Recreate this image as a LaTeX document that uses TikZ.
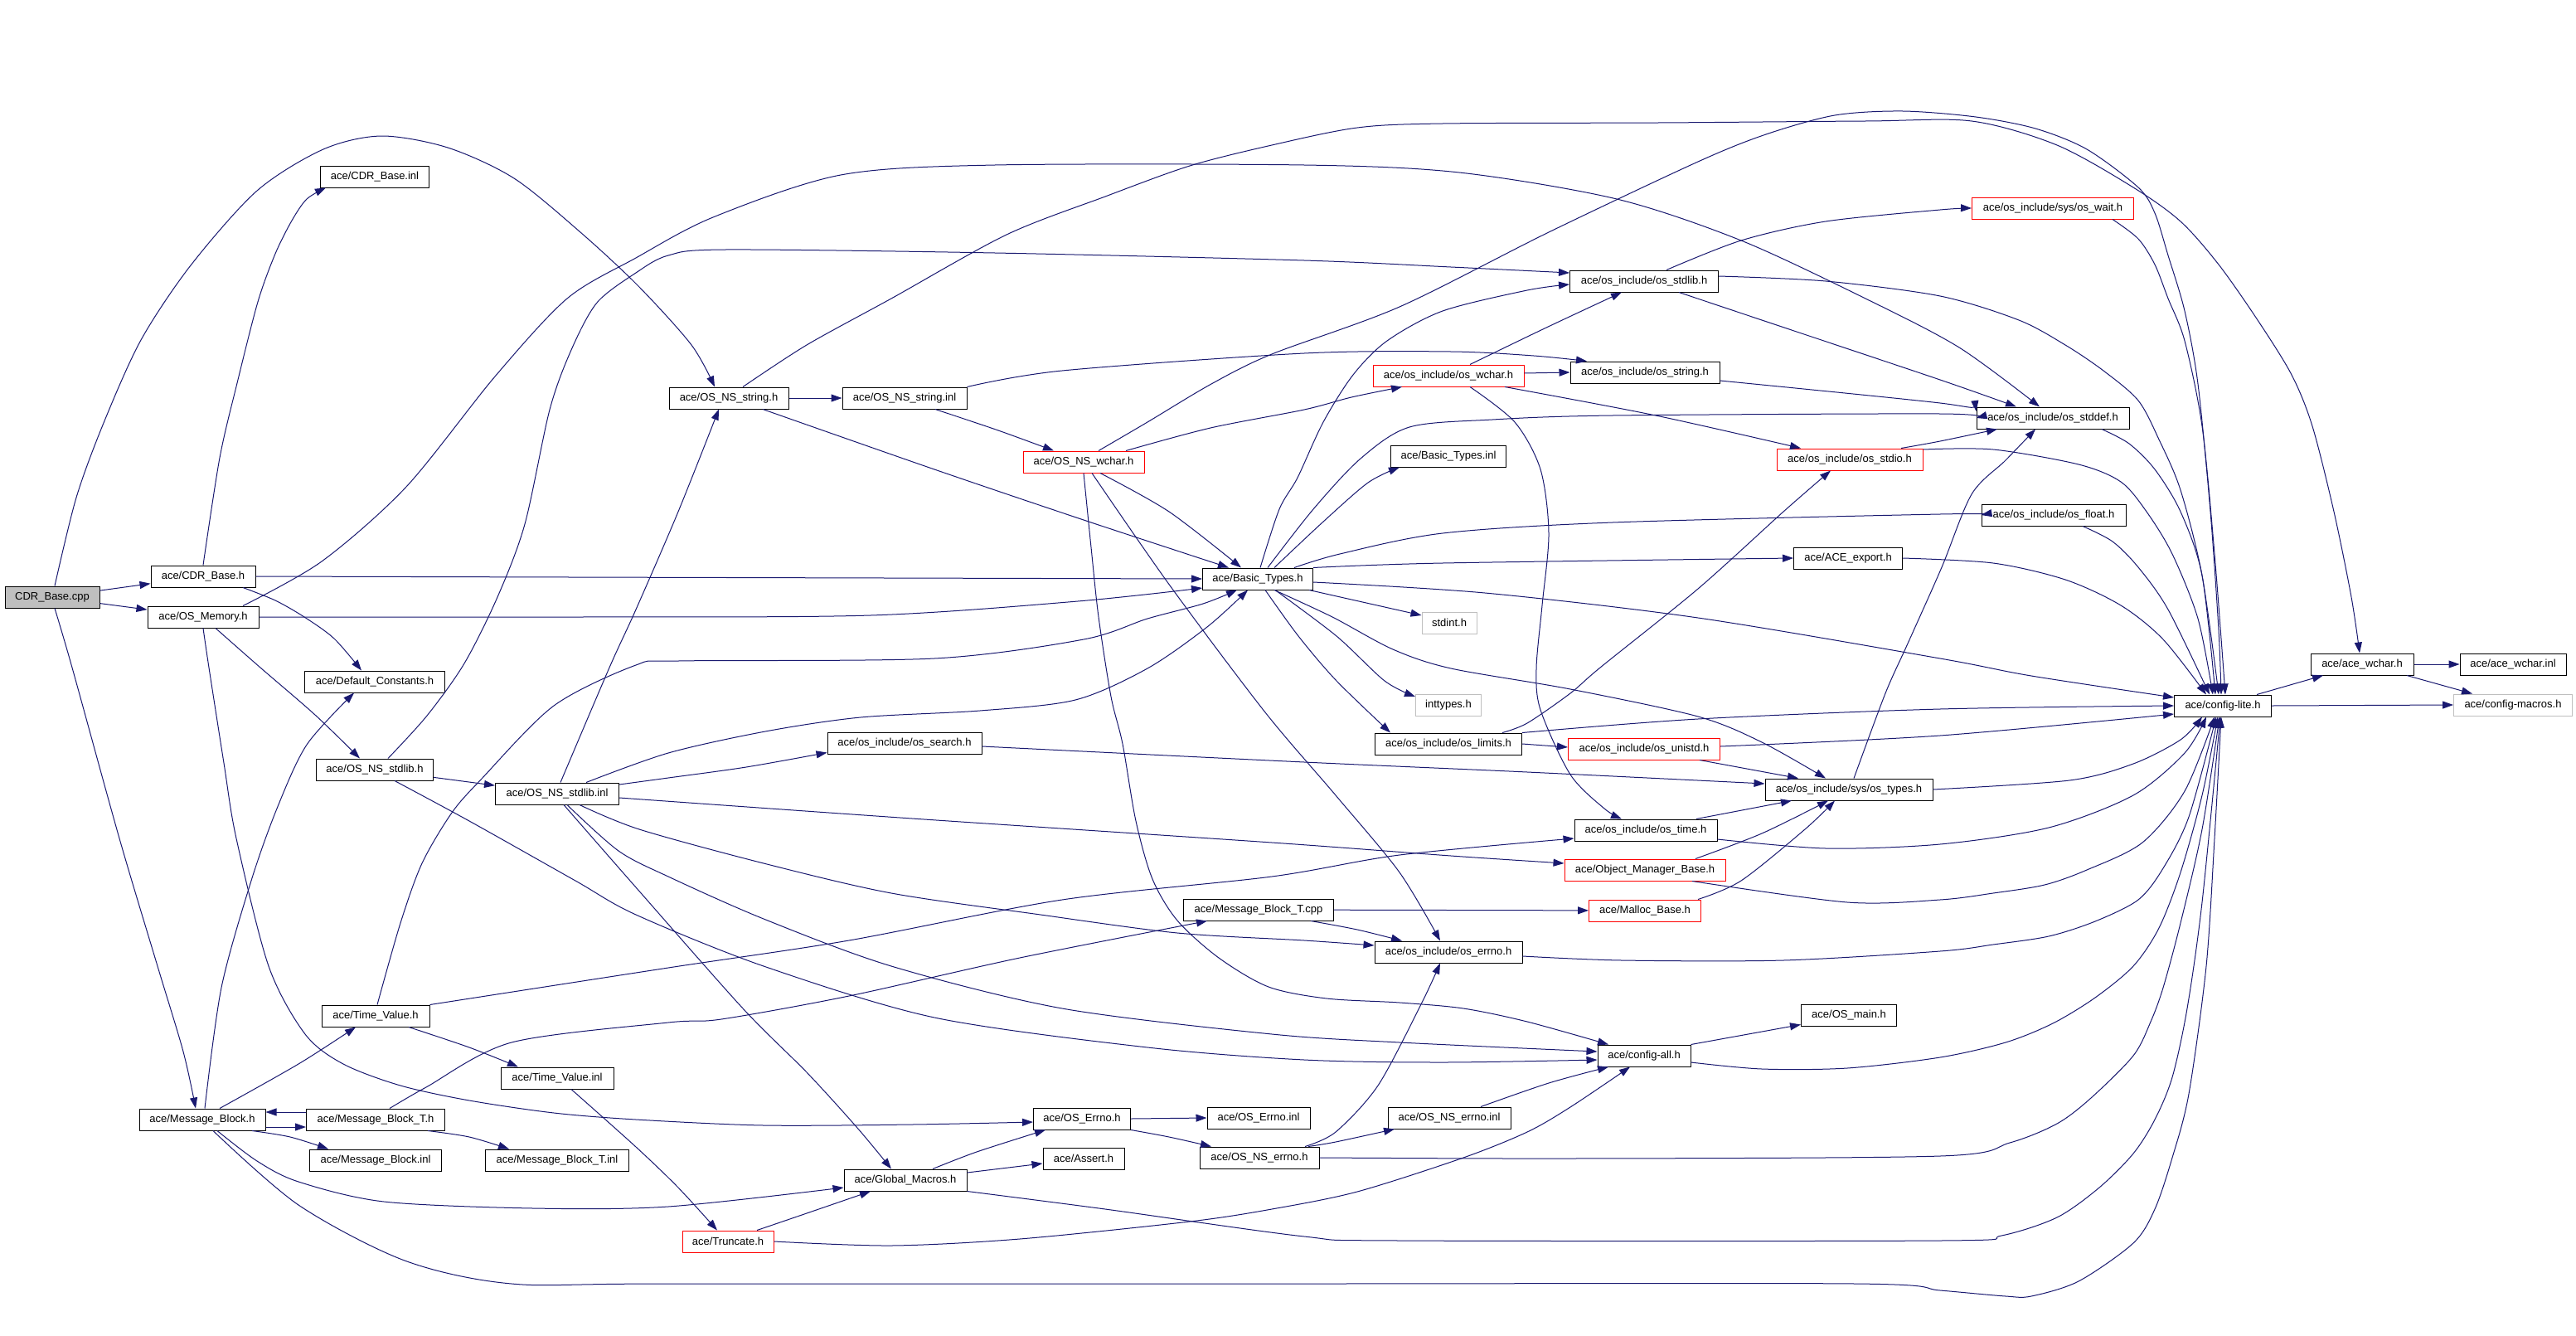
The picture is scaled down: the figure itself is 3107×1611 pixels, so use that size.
\documentclass[tikz,border=0pt]{standalone}
\usepackage{fontspec}
\setmainfont{Liberation Sans}
\usetikzlibrary{arrows.meta}
\definecolor{edgeblue}{HTML}{191970}
\definecolor{rootgray}{HTML}{BFBFBF}
\definecolor{lgray}{HTML}{BFBFBF}
\tikzset{
  nb/.style={draw=black, line width=1pt, fill=white, minimum height=26pt, inner sep=0pt, font=\fontsize{13pt}{15pt}\selectfont},
  rednb/.style={nb, draw=red},
  graynb/.style={nb, draw=lgray},
  rootnb/.style={nb, fill=rootgray},
  edge/.style={draw=edgeblue, line width=1pt, -{Triangle[length=13pt,width=9pt]}},
}
\newcommand\edgeplot[1]{\draw[edge] plot[smooth, tension=0.5] coordinates {#1};}
\begin{document}
\begin{tikzpicture}[x=1pt,y=-1pt]
\useasboundingbox (0,0) rectangle (3107,1611);
% nodes
\node[rootnb, minimum width=114pt] (ncpp) at (63,720) {CDR\_Base.cpp};
\node[nb, minimum width=126pt] (ncdrh) at (245,695) {ace/CDR\_Base.h};
\node[nb, minimum width=134pt] (nmem) at (245,744) {ace/OS\_Memory.h};
\node[nb, minimum width=131pt] (ncdrinl) at (452,213) {ace/CDR\_Base.inl};
\node[nb, minimum width=169pt] (ndefc) at (452,822) {ace/Default\_Constants.h};
\node[nb, minimum width=141pt] (nnsstdlib) at (452,928) {ace/OS\_NS\_stdlib.h};
\node[nb, minimum width=149pt] (nnsstdlibinl) at (672,957) {ace/OS\_NS\_stdlib.inl};
\node[nb, minimum width=130pt] (ntv) at (453,1225) {ace/Time\_Value.h};
\node[nb, minimum width=136pt] (ntvinl) at (672,1300) {ace/Time\_Value.inl};
\node[nb, minimum width=152pt] (nmb) at (244,1350) {ace/Message\_Block.h};
\node[nb, minimum width=167pt] (nmbt) at (453,1350) {ace/Message\_Block\_T.h};
\node[nb, minimum width=159pt] (nmbinl) at (453,1399) {ace/Message\_Block.inl};
\node[nb, minimum width=173pt] (nmbtinl) at (672,1399) {ace/Message\_Block\_T.inl};
\node[nb, minimum width=144pt] (nnsstring) at (879,480) {ace/OS\_NS\_string.h};
\node[nb, minimum width=150pt] (nnsstringinl) at (1091,480) {ace/OS\_NS\_string.inl};
\node[rednb, minimum width=146pt] (nnswchar) at (1307,557) {ace/OS\_NS\_wchar.h};
\node[nb, minimum width=186pt] (nsearch) at (1091,896) {ace/os\_include/os\_search.h};
\node[nb, minimum width=148pt] (ngm) at (1092,1423) {ace/Global\_Macros.h};
\node[rednb, minimum width=110pt] (ntrunc) at (878,1497) {ace/Truncate.h};
\node[nb, minimum width=133pt] (nbt) at (1517,698) {ace/Basic\_Types.h};
\node[nb, minimum width=181pt] (nmbtcpp) at (1518,1097) {ace/Message\_Block\_T.cpp};
\node[nb, minimum width=117pt] (nerrno) at (1305,1349) {ace/OS\_Errno.h};
\node[nb, minimum width=98pt] (nassert) at (1307,1397) {ace/Assert.h};
\node[nb, minimum width=124pt] (nerrnoinl) at (1518,1348) {ace/OS\_Errno.inl};
\node[nb, minimum width=144pt] (nnserrno) at (1519,1396) {ace/OS\_NS\_errno.h};
\node[rednb, minimum width=182pt] (noswchar) at (1747,453) {ace/os\_include/os\_wchar.h};
\node[nb, minimum width=139pt] (nbtinl) at (1747,550) {ace/Basic\_Types.inl};
\node[graynb, minimum width=66pt] (nstdint) at (1748,751) {stdint.h};
\node[graynb, minimum width=79pt] (ninttypes) at (1747,850) {inttypes.h};
\node[nb, minimum width=177pt] (nlimits) at (1747,897) {ace/os\_include/os\_limits.h};
\node[nb, minimum width=178pt] (noserrno) at (1747,1148) {ace/os\_include/os\_errno.h};
\node[nb, minimum width=148pt] (nnserrnoinl) at (1748,1348) {ace/OS\_NS\_errno.inl};
\node[nb, minimum width=179pt] (nstdlib) at (1983,339) {ace/os\_include/os\_stdlib.h};
\node[nb, minimum width=180pt] (nstring) at (1984,449) {ace/os\_include/os\_string.h};
\node[rednb, minimum width=183pt] (nunistd) at (1983,903) {ace/os\_include/os\_unistd.h};
\node[nb, minimum width=172pt] (ntime) at (1985,1001) {ace/os\_include/os\_time.h};
\node[rednb, minimum width=194pt] (nomb) at (1984,1049) {ace/Object\_Manager\_Base.h};
\node[rednb, minimum width=135pt] (nmalloc) at (1984,1098) {ace/Malloc\_Base.h};
\node[nb, minimum width=112pt] (ncfgall) at (1983,1273) {ace/config-all.h};
\node[rednb, minimum width=176pt] (nstdio) at (2231,554) {ace/os\_include/os\_stdio.h};
\node[nb, minimum width=131pt] (nexport) at (2229,673) {ace/ACE\_export.h};
\node[nb, minimum width=202pt] (ntypes) at (2230,952) {ace/os\_include/sys/os\_types.h};
\node[nb, minimum width=115pt] (nmain) at (2230,1224) {ace/OS\_main.h};
\node[rednb, minimum width=195pt] (nwait) at (2476,251) {ace/os\_include/sys/os\_wait.h};
\node[nb, minimum width=184pt] (nstddef) at (2476,504) {ace/os\_include/os\_stddef.h};
\node[nb, minimum width=174pt] (nfloat) at (2477,621) {ace/os\_include/os\_float.h};
\node[nb, minimum width=117pt] (ncfglite) at (2681,851) {ace/config-lite.h};
\node[nb, minimum width=124pt] (nacewchar) at (2849,801) {ace/ace\_wchar.h};
\node[nb, minimum width=128pt] (nacewcharinl) at (3031,801) {ace/ace\_wchar.inl};
\node[graynb, minimum width=143pt] (nmacros) at (3031,850) {ace/config-macros.h};
% edges
\draw[edge] (ncpp) -- (ncdrh);
\draw[edge] (ncpp) -- (nmem);
\edgeplot{([xshift=3pt]ncpp.north) (92,600) (125,510) (170,410) (230,320) (310,230) (390,180) (460,164) (540,178) (620,215) (700,280) (770,345) (834,416) ([xshift=-17pt]nnsstring.north)}
\edgeplot{([xshift=3pt]ncpp.south) (87,805) (144,1011) (190,1165) (221,1268) ([xshift=-8pt]nmb.north)}
\edgeplot{(ncdrh.north) (265,552) (286,462) (311,364) (332,306) (352,266) (370,240) ([xshift=-59pt]ncdrinl.south)}
\draw[edge] (ncdrh.east) -- (nbt.west);
\edgeplot{([xshift=48pt]ncdrh.south) (332,724) (367,744) (403,770) ([xshift=-16pt]ndefc.north)}
\edgeplot{(nmem.east) (700,744) (1050,742) (1300,725) ([yshift=-11pt]nbt.west)}
\edgeplot{([xshift=15pt]nmem.south) (314,805) (380,862) ([xshift=-18pt]nnsstdlib.north)}
\edgeplot{(nmem.south) (252,805) (270,920) (285,1011) (324,1165) (368,1247) (414,1283) (483,1309) (566,1327) (668,1342) (767,1350) (921,1357) (1100,1356) ([yshift=-4pt]nerrno.west)}
\edgeplot{([xshift=48pt]nmem.north) (388,677) (490,587) (597,454) (684,360) (767,311) (860,262) (1014,211) (1200,199) (1573,199) (1760,208) (1950,240) (2100,290) (2250,360) (2363,419) ([xshift=-16pt]nstddef.north)}
\draw[edge] (nnsstring) -- (nnsstringinl);
\edgeplot{([xshift=41pt]nnsstring.south) (1127,566) (1307,627) ([xshift=-35pt]nbt.north)}
\edgeplot{([xshift=17pt]nnsstring.north) (973,416) (1075,360) (1214,283) (1333,237) (1435,200) (1534,175) (1637,154) (1740,149) (2000,148) (2250,146) (2378,146) (2481,175) (2573,226) (2630,267) (2676,319) (2723,386) (2764,452) (2789,514) (2815,617) (2836,720) ([xshift=-3pt]nacewchar.north)}
\edgeplot{([xshift=18pt]nnswchar.north) (1384,509) (1461,463) (1534,427) (1688,370) (1868,280) (2048,195) (2130,162) (2213,139) (2295,134) (2383,141) (2455,155) (2517,180) (2579,226) (2599,257) (2615,308) (2635,375) (2651,463) (2666,617) (2676,760) ([xshift=-2pt]ncfglite.north)}
\edgeplot{([xshift=37pt]nnsstringinl.south) (1204,519) ([xshift=-36pt]nnswchar.north)}
\edgeplot{(nnsstringinl.north east) (1281,447) (1573,426) (1750,424) (1850,429) ([xshift=-70pt]nstring.north)}
\edgeplot{([xshift=20pt]nnswchar.south) (1410,617) ([xshift=-20pt]nbt.north)}
\edgeplot{([xshift=51pt]nnswchar.north) (1460,516) (1573,494) (1630,479) ([xshift=-56pt]noswchar.south)}
\edgeplot{([xshift=10pt]nnswchar.south) (1411,706) (1526,859) (1611,959) (1688,1052) ([xshift=-10pt]noserrno.north)}
\edgeplot{(nnswchar.south) (1316,660) (1325,744) (1340,840) (1354,897) (1370,990) (1390,1060) (1420,1110) (1470,1155) (1530,1190) (1600,1204) (1688,1209) (1765,1216) (1842,1232) ([xshift=-43pt]ncfgall.north)}
\draw[edge] (nnsstdlib) -- (nnsstdlibinl);
\edgeplot{([xshift=16pt]nnsstdlib.north) (515,863) (560,800) (600,720) (633,632) (663,494) (689,422) (720,365) (767,329) (806,308) (875,301) (1200,305) (1573,314) (1750,322) ([yshift=10pt]nstdlib.west)}
\edgeplot{([xshift=24pt]nnsstdlib.south) (566,990) (694,1062) (767,1103) (921,1165) (1127,1227) (1384,1263) (1573,1278) (1740,1281) ([yshift=-5pt]ncfgall.west)}
\edgeplot{([xshift=4pt]nnsstdlibinl.north) (735,805) (767,735) (818,617) ([xshift=-12pt]nnsstring.south)}
\edgeplot{([xshift=35pt]nnsstdlibinl.north) (806,908) (923,882) (1038,865) (1182,857) (1297,844) (1384,806) (1456,756) ([xshift=-12pt]nbt.south)}
\edgeplot{([yshift=11pt]nnsstdlibinl.east) (806,938) (900,925) ([yshift=2pt]nsearch.south west)}
\edgeplot{([yshift=-5pt]nnsstdlibinl.east) (1100,987) (1534,1016) (1750,1032) ([yshift=8pt]nomb.west)}
\edgeplot{([xshift=27pt]nnsstdlibinl.south) (771,1000) (921,1041) (1075,1077) (1255,1103) (1420,1125) (1573,1134) ([yshift=8pt]noserrno.west)}
\edgeplot{([xshift=12pt]nnsstdlibinl.south) (746,1026) (806,1057) (921,1108) (1075,1165) (1281,1216) (1534,1247) (1688,1257) ([yshift=5pt]ncfgall.west)}
\edgeplot{([xshift=8pt]nnsstdlibinl.south) (767,1070) (896,1216) (973,1293) (1034,1360) ([xshift=-17pt]ngm.north)}
\edgeplot{([xshift=40pt]ntv.south) (566,1263) ([xshift=-47pt]ntvinl.north)}
\edgeplot{([xshift=2pt]ntv.north) (483,1113) (509,1041) (545,980) (581,939) (668,851) (767,802) (818,797) (1127,794) (1307,771) (1384,746) (1451,728) ([xshift=-25pt]nbt.south)}
\edgeplot{(ntv.north east) (806,1167) (1024,1134) (1281,1085) (1534,1057) (1688,1031) ([yshift=-10pt]ntime.west)}
\edgeplot{([xshift=17pt]ntvinl.south) (767,1383) (818,1432) ([xshift=-13pt]ntrunc.north)}
\edgeplot{([xshift=21pt]nmb.north) (360,1283) ([xshift=-24pt]ntv.south)}
\draw[edge] ([yshift=-9pt]nmb.east) -- ([yshift=-9pt]nmbt.west);
\draw[edge] ([yshift=9pt]nmbt.west) -- ([yshift=9pt]nmb.east);
\edgeplot{([xshift=60pt]nmb.south) (350,1371) ([xshift=-57pt]nmbinl.north)}
\edgeplot{([xshift=63pt]nmbt.south) (566,1371) ([xshift=-58pt]nmbtinl.north)}
\edgeplot{([xshift=3pt]nmb.north) (267,1191) (303,1062) (334,975) (370,898) ([xshift=-25pt]ndefc.south)}
\edgeplot{([xshift=18pt]nmb.south) (310,1400) (360,1425) (463,1449) (643,1457) (806,1455) ([yshift=-9pt]ngm.west)}
\edgeplot{([xshift=13pt]nmb.south) (360,1453) (488,1520) (617,1548) (806,1548) (1573,1548) (2238,1548) (2340,1556) (2419,1563) (2450,1563) (2507,1545) (2573,1499) (2599,1458) (2620,1396) (2640,1319) (2661,1165) (2671,1011) ([xshift=-2pt]ncfglite.south)}
\edgeplot{(nnserrno.east) (1894,1397) (2340,1394) (2424,1378) (2481,1355) (2522,1324) (2573,1273) (2594,1232) (2609,1191) (2630,1113) (2656,1000) ([xshift=-4pt]ncfglite.south)}
\edgeplot{(ngm.south east) (1333,1458) (1573,1491) (1688,1496) (2340,1496) (2414,1490) (2481,1468) (2532,1432) (2573,1391) (2599,1350) (2620,1299) (2638,1216) (2656,1088) ([xshift=-3pt]ncfglite.south)}
\edgeplot{([yshift=-8pt]ncfgall.east) (2125,1289) (2228,1288) (2340,1275) (2419,1257) (2476,1234) (2527,1203) (2573,1165) (2604,1119) (2630,1052) (2656,959) ([xshift=-6pt]ncfglite.south)}
\edgeplot{([yshift=-5pt]noserrno.east) (1956,1158) (2151,1158) (2340,1147) (2404,1139) (2471,1129) (2527,1111) (2579,1085) (2609,1047) (2640,985) ([xshift=-8pt]ncfglite.south)}
\edgeplot{([xshift=57pt]nomb.south) (2228,1088) (2340,1085) (2404,1077) (2466,1067) (2517,1049) (2584,1016) (2635,954) ([xshift=-10pt]ncfglite.south)}
\edgeplot{([yshift=-11pt]ntime.east) (2202,1023) (2340,1018) (2471,998) (2573,959) (2635,908) ([xshift=-20pt]ncfglite.south)}
\edgeplot{(ntypes.east) (2496,941) (2573,921) (2630,892) ([xshift=-25pt]ncfglite.south)}
\edgeplot{([yshift=3pt]nunistd.east) (2340,887) ([yshift=-10pt]ncfglite.west)}
\edgeplot{(nlimits.north east) (2048,867) (2340,855) (ncfglite.west)}
\edgeplot{([yshift=-4pt]nbt.east) (1791,715) (2048,745) (2340,794) (2450,815) ([yshift=10pt]ncfglite.west)}
\edgeplot{([xshift=72pt]nwait.south) (2579,288) (2599,319) (2615,360) (2635,411) (2656,514) (2671,668) ([xshift=3pt]ncfglite.north)}
\edgeplot{([yshift=6pt]nstdlib.east) (2202,339) (2340,357) (2435,386) (2491,416) (2537,447) (2579,483) (2604,530) (2630,591) (2656,694) ([xshift=-5pt]ncfglite.north)}
\edgeplot{([xshift=59pt]nstddef.south) (2568,535) (2599,566) (2630,617) (2656,694) ([xshift=-9pt]ncfglite.north)}
\edgeplot{([yshift=12pt]nstdio.east) (2404,542) (2507,560) (2558,581) (2589,617) (2620,668) (2651,746) ([xshift=-12pt]ncfglite.north)}
\edgeplot{([xshift=35pt]nfloat.south) (2548,653) (2579,684) (2615,735) ([xshift=-16pt]ncfglite.north)}
\edgeplot{(nexport.east) (2404,679) (2491,699) (2558,730) (2609,771) ([xshift=-20pt]ncfglite.north)}
\edgeplot{([xshift=27pt]nstdlib.north) (2100,290) (2202,267) (2340,253) (nwait.west)}
\edgeplot{([xshift=42pt]nstdlib.south) (2125,386) (2340,458) ([xshift=-44pt]nstddef.north)}
\edgeplot{([yshift=-10pt]nstring.east) (2340,486) ([yshift=8pt]nstddef.west)}
\edgeplot{([xshift=12pt]nbt.north) (1584,614) (1641,553) (1700,515) (1800,506) (1945,501) (2340,499) (nstddef.west)}
\edgeplot{([xshift=62pt]nstdio.north) (2340,532) ([xshift=-67pt]nstddef.south)}
\edgeplot{([xshift=6pt]ntypes.north) (2274,836) (2301,776) (2342,684) (2378,596) (2419,555) ([xshift=-21pt]nstddef.south)}
\draw[edge] (nlimits.east) -- ([yshift=2pt]nunistd.west);
\edgeplot{([xshift=65pt]nlimits.north) (1842,872) (1894,836) (1930,805) (2048,710) (2151,617) ([xshift=-23pt]nstdio.south)}
\draw[edge] ([xshift=67pt]nunistd.south) -- ([xshift=-61pt]ntypes.north);
\draw[edge] ([xshift=61pt]ntime.north) -- ([xshift=-69pt]ntypes.south);
\edgeplot{([xshift=61pt]nomb.north) (2125,1005) ([xshift=-25pt]ntypes.south)}
\edgeplot{([xshift=64pt]nmalloc.north) (2100,1062) (2177,1000) ([xshift=-17pt]ntypes.south)}
\edgeplot{([yshift=-4pt]nsearch.east) (1573,919) (1842,931) ([yshift=7pt]ntypes.west)}
\draw[edge] (ncfgall.north east) -- ([yshift=2pt]nmain.south west);
\edgeplot{([xshift=59pt]nnserrno.north) (1611,1377) ([xshift=-66pt]nnserrnoinl.south)}
\edgeplot{([xshift=55pt]nnserrno.north) (1611,1365) (1662,1309) (1714,1211) ([xshift=-10pt]noserrno.south)}
\edgeplot{([xshift=38pt]nnserrnoinl.north) (1868,1306) ([xshift=-43pt]ncfgall.south)}
\edgeplot{(ntrunc.east) (1075,1502) (1230,1494) (1435,1473) (1534,1458) (1637,1437) (1765,1396) (1842,1365) (1894,1335) ([xshift=-17pt]ncfgall.south)}
\edgeplot{([xshift=35pt]ntrunc.north) (973,1463) ([xshift=-42pt]ngm.south)}
\edgeplot{([xshift=33pt]ngm.north) (1178,1389) ([xshift=-44pt]nerrno.south)}
\draw[edge] (ngm) -- (nassert);
\draw[edge] (nerrno.east) -- (nerrnoinl.west);
\edgeplot{(nerrno.south east) (1410,1371) ([xshift=-58pt]nnserrno.north)}
\draw[edge] (nmbtcpp) -- (nmalloc);
\edgeplot{([xshift=63pt]nmbtcpp.south) (1637,1121) ([xshift=-56pt]noserrno.north)}
\edgeplot{([xshift=17pt]nmbt.north) (514,1311) (617,1257) (806,1233) (870,1229) (1024,1201) (1230,1155) ([xshift=-62pt]nmbtcpp.south)}
\edgeplot{([xshift=26pt]noswchar.north) (1863,396) ([xshift=-27pt]nstdlib.south)}
\draw[edge] ([yshift=3pt]noswchar.east) -- (nstring.west);
\edgeplot{([xshift=68pt]noswchar.south) (1997,501) ([xshift=-59pt]nstdio.north)}
\edgeplot{([xshift=26pt]noswchar.south) (1827,509) (1858,566) (1868,643) (1860,730) (1853,806) (1858,856) (1894,934) (1935,975) ([xshift=-29pt]ntime.north)}
\edgeplot{([xshift=20pt]nbt.north) (1595,630) (1650,582) ([xshift=-59pt]nbtinl.south)}
\edgeplot{([xshift=3pt]nbt.north) (1543,614) (1565,576) (1596,509) (1632,452) (1673,411) (1740,375) (1842,350) ([yshift=-4pt]nstdlib.west)}
\edgeplot{([xshift=44pt]nbt.north) (1616,668) (1740,643) (1945,630) (2340,620) (nfloat.west)}
\edgeplot{(nbt.north east) (1740,679) (nexport.west)}
\draw[edge] ([xshift=62pt]nbt.south) -- ([yshift=9pt]nstdint.west);
\edgeplot{([xshift=21pt]nbt.south) (1612,767) (1670,821) ([yshift=10pt]ninttypes.west)}
\edgeplot{([xshift=9pt]nbt.south) (1566,767) (1612,821) ([xshift=-70pt]nlimits.north)}
\edgeplot{([xshift=20pt]nbt.south) (1607,744) (1680,783) (1750,806) (1894,831) (2048,864) (2125,895) ([xshift=-28pt]ntypes.north)}
\draw[edge] ([xshift=41pt]ncfglite.north) -- ([xshift=-47pt]nacewchar.south);
\draw[edge] (ncfglite.east) -- (nmacros.west);
\draw[edge] (nacewchar.east) -- (nacewcharinl.west);
\draw[edge] ([xshift=54pt]nacewchar.south) -- ([xshift=-49pt]nmacros.north);
\end{tikzpicture}
\end{document}
